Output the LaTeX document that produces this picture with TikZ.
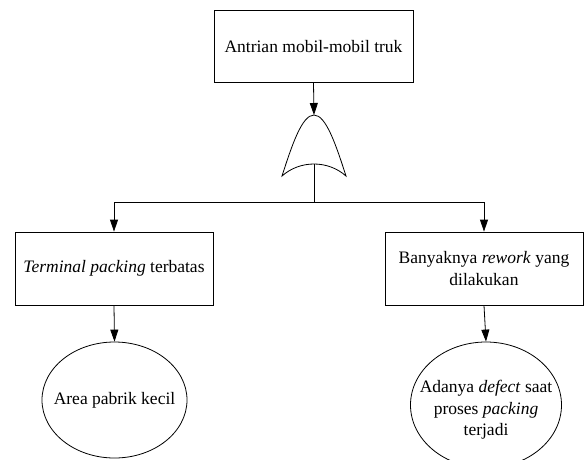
\documentclass[tikz,border=0pt]{standalone}
\usepackage{fontspec}
\setmainfont{Liberation Serif}
\usetikzlibrary{shapes.geometric,arrows.meta}
\begin{document}
\begin{tikzpicture}[x=1pt,y=-1pt,
  every node/.style={font=\fontsize{17.5}{21.5}\selectfont},
  eventbox/.style={draw,line width=0.8pt,rectangle,inner sep=0pt,align=center},
  basicev/.style={draw,line width=0.8pt,ellipse,inner sep=0pt},
  evtext/.style={align=center,inner sep=0pt},
  link/.style={line width=0.8pt},
  arr/.style={link,-{Triangle[length=12pt,width=8pt]}}]
\useasboundingbox (0,0) rectangle (584,459);
% top event
\node[eventbox,minimum width=199pt,minimum height=72pt] (top) at (313.5,46.5) {Antrian mobil-mobil truk};
% OR gate
\coordinate (gtop) at (314,115);
\coordinate (gbot) at (314,164);
\draw[link] (gtop) .. controls (302,115) and (292,145) .. (282,176)
  .. controls (300,160) and (328,160) .. (346,176)
  .. controls (336,145) and (326,115) .. (gtop);
\draw[arr] (top.south) -- (gtop);
% intermediate events
\node[eventbox,minimum width=198pt,minimum height=73pt] (left) at (114,268.5) {\textit{Terminal packing} terbatas};
\node[eventbox,minimum width=198pt,minimum height=73pt] (right) at (484,268.5) {Banyaknya \textit{rework} yang\\dilakukan};
\coordinate (bar) at (314,202);
\draw[link] (gbot) -- (bar);
\draw[arr] (bar) -| (left.north);
\draw[arr] (bar) -| (right.north);
% basic events
\node[basicev,minimum width=145pt,minimum height=116pt] (lev) at (114.5,400) {};
\node[evtext] (levt) at (lev.center) {Area pabrik kecil};
\node[basicev,minimum width=151pt,minimum height=126pt] (rev) at (486,405) {};
\node[evtext] (revt) at ([yshift=-5pt]rev.center) {Adanya \textit{defect} saat\\proses \textit{packing}\\terjadi};
\draw[arr] (left.south) -- (lev.north);
\draw[arr] (right.south) -- (rev.north);
\end{tikzpicture}
\end{document}
